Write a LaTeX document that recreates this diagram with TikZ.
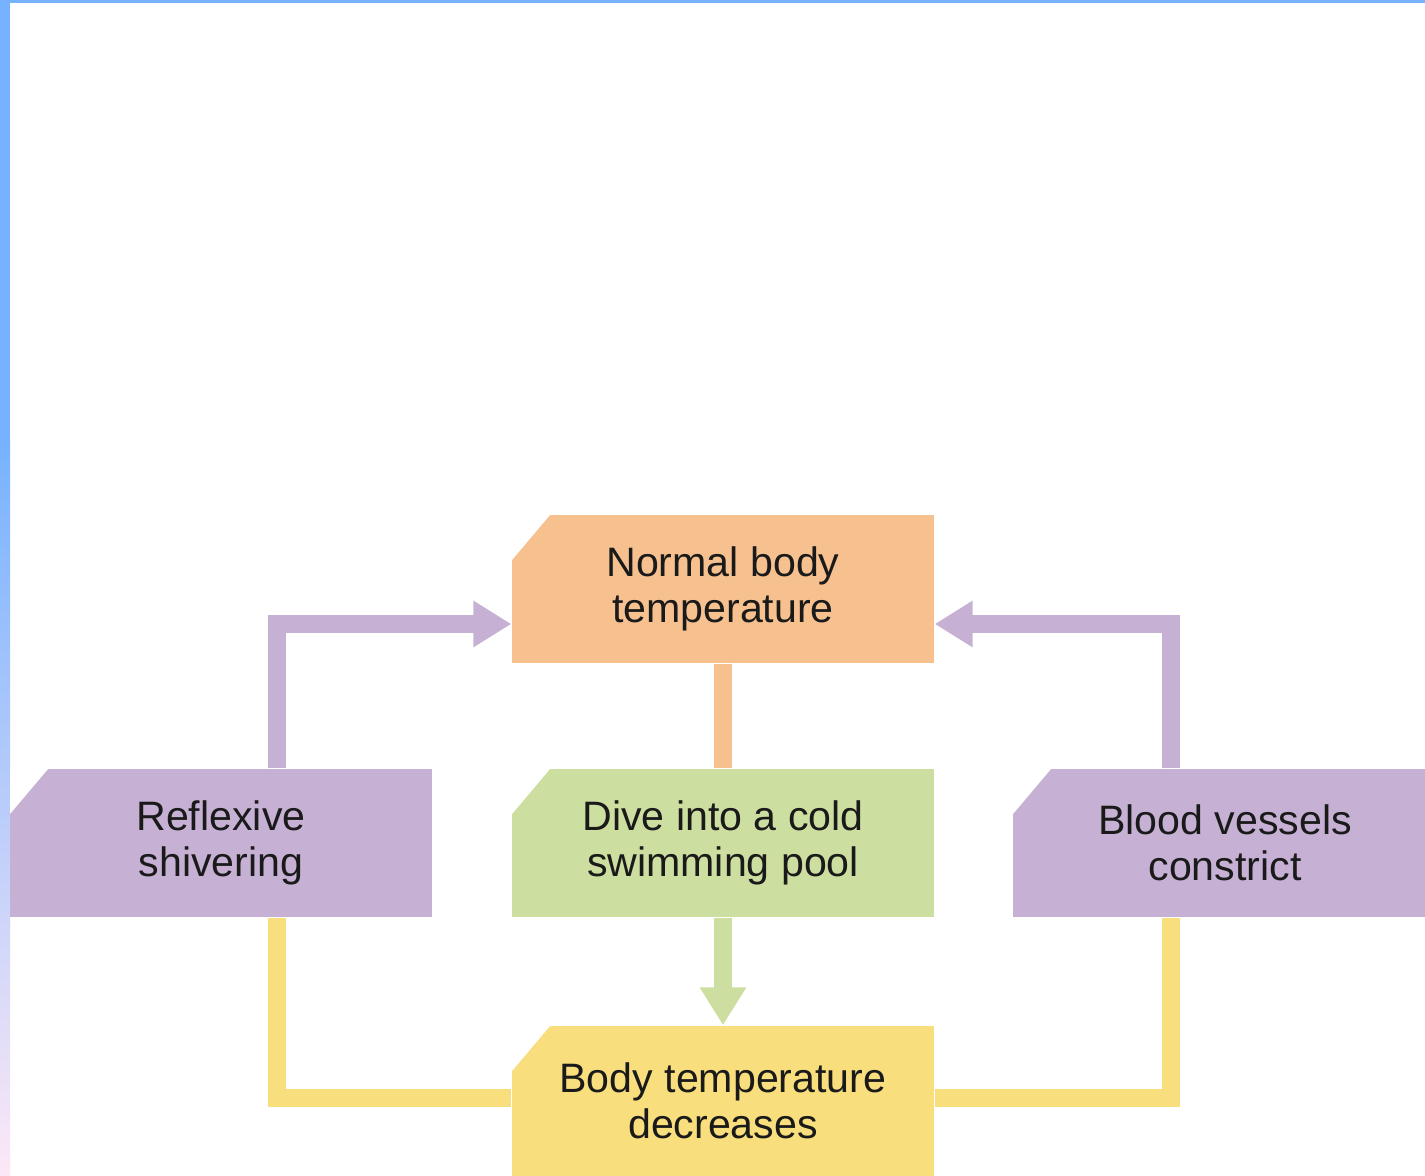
\documentclass[tikz,border=0pt]{standalone}
\usepackage{fontspec}
\setmainfont{Liberation Sans}
\usetikzlibrary{arrows.meta,calc}
\definecolor{barblue}{HTML}{77B2FF}
\definecolor{barmid}{HTML}{C4D7F0}
\definecolor{barpink}{HTML}{FCE8F6}
\definecolor{cpurple}{HTML}{C6B1D5}
\definecolor{cgreen}{HTML}{CDDFA0}
\definecolor{cyellow}{HTML}{F8DE7D}
\definecolor{corange}{HTML}{F6C18F}
\definecolor{ctext}{HTML}{1A1A1A}
\tikzset{
  box/.style={minimum width=4.22cm, minimum height=1.48cm, inner sep=0pt,
    align=center, text=ctext,
    font=\fontsize{11.7pt}{13.1pt}\selectfont,
    path picture={\fill[white] (path picture bounding box.north west) -- ++(0.38,0) -- ++(-0.38,-0.45) -- cycle;}},
  conn/.style={line width=0.18cm, line join=miter},
  tip/.style={-{Triangle[width=0.44cm,length=0.38cm]}}
}
\begin{document}
\begin{tikzpicture}
\useasboundingbox (0,0) rectangle (14.25,-11.76);
\fill[white] (0,0) rectangle (14.25,-11.76);
% frame bars
\fill[barblue] (0,0) rectangle (0.10,-4.4);
\shade[top color=barblue, middle color=barmid, bottom color=barpink] (0,-4.4) rectangle (0.10,-11.76);
\fill[barblue] (0,0) rectangle (14.25,-0.03);
% boxes
\node[box, fill=corange] (normal) at (7.23,-5.89) {Normal body\\temperature};
\node[box, fill=cgreen] (dive) at (7.23,-8.43) {Dive into a cold\\swimming pool};
\node[box, fill=cpurple] (reflex) at (2.21,-8.43) {Reflexive\\shivering};
\node[box, fill=cpurple, minimum width=4.24cm] (blood) at (12.25,-8.43) {Blood vessels\\constrict};
\node[box, fill=cyellow, minimum height=1.5cm] (body) at (7.23,-11.01) {Body temperature\\decreases};
% helper coordinates
\coordinate (pl) at (2.77,-6.24);
\coordinate (pr) at (11.71,-6.24);
\coordinate (yl) at (2.77,-10.98);
\coordinate (yr) at (11.71,-10.98);
% connectors
\draw[conn, corange] (normal.south) -- (dive.north);
\draw[conn, cgreen, tip] (dive.south) -- (body.north);
\draw[conn, cpurple, tip] (reflex.north -| pl) |- (normal.west |- pl);
\draw[conn, cpurple, tip] (blood.north -| pr) |- (normal.east |- pr);
\draw[conn, cyellow] (reflex.south -| yl) |- (body.west |- yl);
\draw[conn, cyellow] (blood.south -| yr) |- (body.east |- yr);
\end{tikzpicture}
\end{document}
